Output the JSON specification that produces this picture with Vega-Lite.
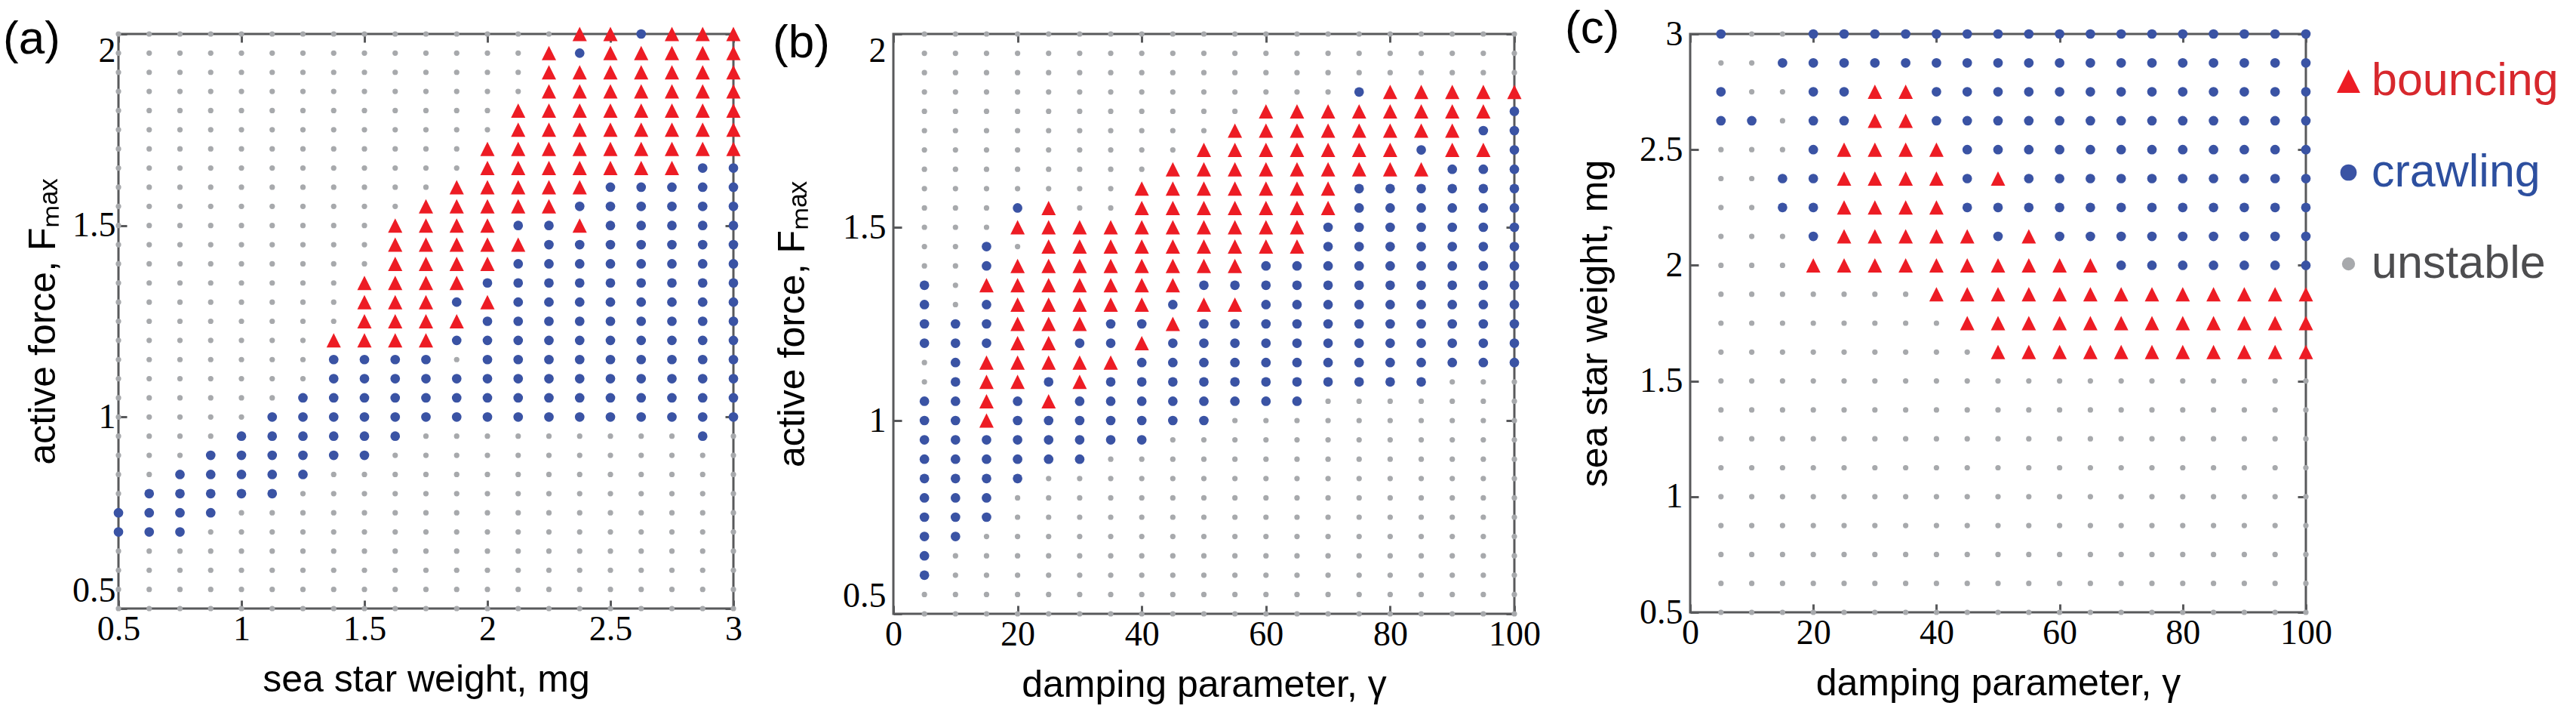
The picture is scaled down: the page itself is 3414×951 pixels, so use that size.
{
"$schema":"https://vega.github.io/schema/vega-lite/v6.json",
"background":"#ffffff",
"padding":{"left":2,"top":5,"right":0,"bottom":0},
"datasets":{
"a":[
{"x":0.5,"y":2,"s":"u"},{"x":0.625,"y":2,"s":"u"},{"x":0.75,"y":2,"s":"u"},{"x":0.875,"y":2,"s":"u"},{"x":1,"y":2,"s":"u"},{"x":1.125,"y":2,"s":"u"},{"x":1.25,"y":2,"s":"u"},{"x":1.375,"y":2,"s":"u"},{"x":1.5,"y":2,"s":"u"},{"x":1.625,"y":2,"s":"u"},{"x":1.75,"y":2,"s":"u"},{"x":1.875,"y":2,"s":"u"},{"x":2,"y":2,"s":"u"},{"x":2.125,"y":2,"s":"u"},{"x":2.25,"y":2,"s":"u"},{"x":2.375,"y":2,"s":"b"},{"x":2.5,"y":2,"s":"b"},{"x":2.625,"y":2,"s":"c"},{"x":2.75,"y":2,"s":"b"},{"x":2.875,"y":2,"s":"b"},{"x":3,"y":2,"s":"b"},
{"x":0.5,"y":1.95,"s":"u"},{"x":0.625,"y":1.95,"s":"u"},{"x":0.75,"y":1.95,"s":"u"},{"x":0.875,"y":1.95,"s":"u"},{"x":1,"y":1.95,"s":"u"},{"x":1.125,"y":1.95,"s":"u"},{"x":1.25,"y":1.95,"s":"u"},{"x":1.375,"y":1.95,"s":"u"},{"x":1.5,"y":1.95,"s":"u"},{"x":1.625,"y":1.95,"s":"u"},{"x":1.75,"y":1.95,"s":"u"},{"x":1.875,"y":1.95,"s":"u"},{"x":2,"y":1.95,"s":"u"},{"x":2.125,"y":1.95,"s":"u"},{"x":2.25,"y":1.95,"s":"b"},{"x":2.375,"y":1.95,"s":"c"},{"x":2.5,"y":1.95,"s":"b"},{"x":2.625,"y":1.95,"s":"b"},{"x":2.75,"y":1.95,"s":"b"},{"x":2.875,"y":1.95,"s":"b"},{"x":3,"y":1.95,"s":"b"},
{"x":0.5,"y":1.9,"s":"u"},{"x":0.625,"y":1.9,"s":"u"},{"x":0.75,"y":1.9,"s":"u"},{"x":0.875,"y":1.9,"s":"u"},{"x":1,"y":1.9,"s":"u"},{"x":1.125,"y":1.9,"s":"u"},{"x":1.25,"y":1.9,"s":"u"},{"x":1.375,"y":1.9,"s":"u"},{"x":1.5,"y":1.9,"s":"u"},{"x":1.625,"y":1.9,"s":"u"},{"x":1.75,"y":1.9,"s":"u"},{"x":1.875,"y":1.9,"s":"u"},{"x":2,"y":1.9,"s":"u"},{"x":2.125,"y":1.9,"s":"u"},{"x":2.25,"y":1.9,"s":"b"},{"x":2.375,"y":1.9,"s":"b"},{"x":2.5,"y":1.9,"s":"b"},{"x":2.625,"y":1.9,"s":"b"},{"x":2.75,"y":1.9,"s":"b"},{"x":2.875,"y":1.9,"s":"b"},{"x":3,"y":1.9,"s":"b"},
{"x":0.5,"y":1.85,"s":"u"},{"x":0.625,"y":1.85,"s":"u"},{"x":0.75,"y":1.85,"s":"u"},{"x":0.875,"y":1.85,"s":"u"},{"x":1,"y":1.85,"s":"u"},{"x":1.125,"y":1.85,"s":"u"},{"x":1.25,"y":1.85,"s":"u"},{"x":1.375,"y":1.85,"s":"u"},{"x":1.5,"y":1.85,"s":"u"},{"x":1.625,"y":1.85,"s":"u"},{"x":1.75,"y":1.85,"s":"u"},{"x":1.875,"y":1.85,"s":"u"},{"x":2,"y":1.85,"s":"u"},{"x":2.125,"y":1.85,"s":"u"},{"x":2.25,"y":1.85,"s":"b"},{"x":2.375,"y":1.85,"s":"b"},{"x":2.5,"y":1.85,"s":"b"},{"x":2.625,"y":1.85,"s":"b"},{"x":2.75,"y":1.85,"s":"b"},{"x":2.875,"y":1.85,"s":"b"},{"x":3,"y":1.85,"s":"b"},
{"x":0.5,"y":1.8,"s":"u"},{"x":0.625,"y":1.8,"s":"u"},{"x":0.75,"y":1.8,"s":"u"},{"x":0.875,"y":1.8,"s":"u"},{"x":1,"y":1.8,"s":"u"},{"x":1.125,"y":1.8,"s":"u"},{"x":1.25,"y":1.8,"s":"u"},{"x":1.375,"y":1.8,"s":"u"},{"x":1.5,"y":1.8,"s":"u"},{"x":1.625,"y":1.8,"s":"u"},{"x":1.75,"y":1.8,"s":"u"},{"x":1.875,"y":1.8,"s":"u"},{"x":2,"y":1.8,"s":"u"},{"x":2.125,"y":1.8,"s":"b"},{"x":2.25,"y":1.8,"s":"b"},{"x":2.375,"y":1.8,"s":"b"},{"x":2.5,"y":1.8,"s":"b"},{"x":2.625,"y":1.8,"s":"b"},{"x":2.75,"y":1.8,"s":"b"},{"x":2.875,"y":1.8,"s":"b"},{"x":3,"y":1.8,"s":"b"},
{"x":0.5,"y":1.75,"s":"u"},{"x":0.625,"y":1.75,"s":"u"},{"x":0.75,"y":1.75,"s":"u"},{"x":0.875,"y":1.75,"s":"u"},{"x":1,"y":1.75,"s":"u"},{"x":1.125,"y":1.75,"s":"u"},{"x":1.25,"y":1.75,"s":"u"},{"x":1.375,"y":1.75,"s":"u"},{"x":1.5,"y":1.75,"s":"u"},{"x":1.625,"y":1.75,"s":"u"},{"x":1.75,"y":1.75,"s":"u"},{"x":1.875,"y":1.75,"s":"u"},{"x":2,"y":1.75,"s":"u"},{"x":2.125,"y":1.75,"s":"b"},{"x":2.25,"y":1.75,"s":"b"},{"x":2.375,"y":1.75,"s":"b"},{"x":2.5,"y":1.75,"s":"b"},{"x":2.625,"y":1.75,"s":"b"},{"x":2.75,"y":1.75,"s":"b"},{"x":2.875,"y":1.75,"s":"b"},{"x":3,"y":1.75,"s":"b"},
{"x":0.5,"y":1.7,"s":"u"},{"x":0.625,"y":1.7,"s":"u"},{"x":0.75,"y":1.7,"s":"u"},{"x":0.875,"y":1.7,"s":"u"},{"x":1,"y":1.7,"s":"u"},{"x":1.125,"y":1.7,"s":"u"},{"x":1.25,"y":1.7,"s":"u"},{"x":1.375,"y":1.7,"s":"u"},{"x":1.5,"y":1.7,"s":"u"},{"x":1.625,"y":1.7,"s":"u"},{"x":1.75,"y":1.7,"s":"u"},{"x":1.875,"y":1.7,"s":"u"},{"x":2,"y":1.7,"s":"b"},{"x":2.125,"y":1.7,"s":"b"},{"x":2.25,"y":1.7,"s":"b"},{"x":2.375,"y":1.7,"s":"b"},{"x":2.5,"y":1.7,"s":"b"},{"x":2.625,"y":1.7,"s":"b"},{"x":2.75,"y":1.7,"s":"b"},{"x":2.875,"y":1.7,"s":"b"},{"x":3,"y":1.7,"s":"b"},
{"x":0.5,"y":1.65,"s":"u"},{"x":0.625,"y":1.65,"s":"u"},{"x":0.75,"y":1.65,"s":"u"},{"x":0.875,"y":1.65,"s":"u"},{"x":1,"y":1.65,"s":"u"},{"x":1.125,"y":1.65,"s":"u"},{"x":1.25,"y":1.65,"s":"u"},{"x":1.375,"y":1.65,"s":"u"},{"x":1.5,"y":1.65,"s":"u"},{"x":1.625,"y":1.65,"s":"u"},{"x":1.75,"y":1.65,"s":"u"},{"x":1.875,"y":1.65,"s":"u"},{"x":2,"y":1.65,"s":"b"},{"x":2.125,"y":1.65,"s":"b"},{"x":2.25,"y":1.65,"s":"b"},{"x":2.375,"y":1.65,"s":"b"},{"x":2.5,"y":1.65,"s":"b"},{"x":2.625,"y":1.65,"s":"b"},{"x":2.75,"y":1.65,"s":"b"},{"x":2.875,"y":1.65,"s":"c"},{"x":3,"y":1.65,"s":"c"},
{"x":0.5,"y":1.6,"s":"u"},{"x":0.625,"y":1.6,"s":"u"},{"x":0.75,"y":1.6,"s":"u"},{"x":0.875,"y":1.6,"s":"u"},{"x":1,"y":1.6,"s":"u"},{"x":1.125,"y":1.6,"s":"u"},{"x":1.25,"y":1.6,"s":"u"},{"x":1.375,"y":1.6,"s":"u"},{"x":1.5,"y":1.6,"s":"u"},{"x":1.625,"y":1.6,"s":"u"},{"x":1.75,"y":1.6,"s":"u"},{"x":1.875,"y":1.6,"s":"b"},{"x":2,"y":1.6,"s":"b"},{"x":2.125,"y":1.6,"s":"b"},{"x":2.25,"y":1.6,"s":"b"},{"x":2.375,"y":1.6,"s":"b"},{"x":2.5,"y":1.6,"s":"c"},{"x":2.625,"y":1.6,"s":"c"},{"x":2.75,"y":1.6,"s":"c"},{"x":2.875,"y":1.6,"s":"c"},{"x":3,"y":1.6,"s":"c"},
{"x":0.5,"y":1.55,"s":"u"},{"x":0.625,"y":1.55,"s":"u"},{"x":0.75,"y":1.55,"s":"u"},{"x":0.875,"y":1.55,"s":"u"},{"x":1,"y":1.55,"s":"u"},{"x":1.125,"y":1.55,"s":"u"},{"x":1.25,"y":1.55,"s":"u"},{"x":1.375,"y":1.55,"s":"u"},{"x":1.5,"y":1.55,"s":"u"},{"x":1.625,"y":1.55,"s":"u"},{"x":1.75,"y":1.55,"s":"b"},{"x":1.875,"y":1.55,"s":"b"},{"x":2,"y":1.55,"s":"b"},{"x":2.125,"y":1.55,"s":"b"},{"x":2.25,"y":1.55,"s":"b"},{"x":2.375,"y":1.55,"s":"c"},{"x":2.5,"y":1.55,"s":"c"},{"x":2.625,"y":1.55,"s":"c"},{"x":2.75,"y":1.55,"s":"c"},{"x":2.875,"y":1.55,"s":"c"},{"x":3,"y":1.55,"s":"c"},
{"x":0.5,"y":1.5,"s":"u"},{"x":0.625,"y":1.5,"s":"u"},{"x":0.75,"y":1.5,"s":"u"},{"x":0.875,"y":1.5,"s":"u"},{"x":1,"y":1.5,"s":"u"},{"x":1.125,"y":1.5,"s":"u"},{"x":1.25,"y":1.5,"s":"u"},{"x":1.375,"y":1.5,"s":"u"},{"x":1.5,"y":1.5,"s":"u"},{"x":1.625,"y":1.5,"s":"b"},{"x":1.75,"y":1.5,"s":"b"},{"x":1.875,"y":1.5,"s":"b"},{"x":2,"y":1.5,"s":"b"},{"x":2.125,"y":1.5,"s":"c"},{"x":2.25,"y":1.5,"s":"c"},{"x":2.375,"y":1.5,"s":"b"},{"x":2.5,"y":1.5,"s":"c"},{"x":2.625,"y":1.5,"s":"c"},{"x":2.75,"y":1.5,"s":"c"},{"x":2.875,"y":1.5,"s":"c"},{"x":3,"y":1.5,"s":"c"},
{"x":0.5,"y":1.45,"s":"u"},{"x":0.625,"y":1.45,"s":"u"},{"x":0.75,"y":1.45,"s":"u"},{"x":0.875,"y":1.45,"s":"u"},{"x":1,"y":1.45,"s":"u"},{"x":1.125,"y":1.45,"s":"u"},{"x":1.25,"y":1.45,"s":"u"},{"x":1.375,"y":1.45,"s":"u"},{"x":1.5,"y":1.45,"s":"u"},{"x":1.625,"y":1.45,"s":"b"},{"x":1.75,"y":1.45,"s":"b"},{"x":1.875,"y":1.45,"s":"b"},{"x":2,"y":1.45,"s":"b"},{"x":2.125,"y":1.45,"s":"b"},{"x":2.25,"y":1.45,"s":"c"},{"x":2.375,"y":1.45,"s":"c"},{"x":2.5,"y":1.45,"s":"c"},{"x":2.625,"y":1.45,"s":"c"},{"x":2.75,"y":1.45,"s":"c"},{"x":2.875,"y":1.45,"s":"c"},{"x":3,"y":1.45,"s":"c"},
{"x":0.5,"y":1.4,"s":"u"},{"x":0.625,"y":1.4,"s":"u"},{"x":0.75,"y":1.4,"s":"u"},{"x":0.875,"y":1.4,"s":"u"},{"x":1,"y":1.4,"s":"u"},{"x":1.125,"y":1.4,"s":"u"},{"x":1.25,"y":1.4,"s":"u"},{"x":1.375,"y":1.4,"s":"u"},{"x":1.5,"y":1.4,"s":"u"},{"x":1.625,"y":1.4,"s":"b"},{"x":1.75,"y":1.4,"s":"b"},{"x":1.875,"y":1.4,"s":"b"},{"x":2,"y":1.4,"s":"b"},{"x":2.125,"y":1.4,"s":"c"},{"x":2.25,"y":1.4,"s":"c"},{"x":2.375,"y":1.4,"s":"c"},{"x":2.5,"y":1.4,"s":"c"},{"x":2.625,"y":1.4,"s":"c"},{"x":2.75,"y":1.4,"s":"c"},{"x":2.875,"y":1.4,"s":"c"},{"x":3,"y":1.4,"s":"c"},
{"x":0.5,"y":1.35,"s":"u"},{"x":0.625,"y":1.35,"s":"u"},{"x":0.75,"y":1.35,"s":"u"},{"x":0.875,"y":1.35,"s":"u"},{"x":1,"y":1.35,"s":"u"},{"x":1.125,"y":1.35,"s":"u"},{"x":1.25,"y":1.35,"s":"u"},{"x":1.375,"y":1.35,"s":"u"},{"x":1.5,"y":1.35,"s":"b"},{"x":1.625,"y":1.35,"s":"b"},{"x":1.75,"y":1.35,"s":"b"},{"x":1.875,"y":1.35,"s":"b"},{"x":2,"y":1.35,"s":"c"},{"x":2.125,"y":1.35,"s":"c"},{"x":2.25,"y":1.35,"s":"c"},{"x":2.375,"y":1.35,"s":"c"},{"x":2.5,"y":1.35,"s":"c"},{"x":2.625,"y":1.35,"s":"c"},{"x":2.75,"y":1.35,"s":"c"},{"x":2.875,"y":1.35,"s":"c"},{"x":3,"y":1.35,"s":"c"},
{"x":0.5,"y":1.3,"s":"u"},{"x":0.625,"y":1.3,"s":"u"},{"x":0.75,"y":1.3,"s":"u"},{"x":0.875,"y":1.3,"s":"u"},{"x":1,"y":1.3,"s":"u"},{"x":1.125,"y":1.3,"s":"u"},{"x":1.25,"y":1.3,"s":"u"},{"x":1.375,"y":1.3,"s":"u"},{"x":1.5,"y":1.3,"s":"b"},{"x":1.625,"y":1.3,"s":"b"},{"x":1.75,"y":1.3,"s":"b"},{"x":1.875,"y":1.3,"s":"c"},{"x":2,"y":1.3,"s":"b"},{"x":2.125,"y":1.3,"s":"c"},{"x":2.25,"y":1.3,"s":"c"},{"x":2.375,"y":1.3,"s":"c"},{"x":2.5,"y":1.3,"s":"c"},{"x":2.625,"y":1.3,"s":"c"},{"x":2.75,"y":1.3,"s":"c"},{"x":2.875,"y":1.3,"s":"c"},{"x":3,"y":1.3,"s":"c"},
{"x":0.5,"y":1.25,"s":"u"},{"x":0.625,"y":1.25,"s":"u"},{"x":0.75,"y":1.25,"s":"u"},{"x":0.875,"y":1.25,"s":"u"},{"x":1,"y":1.25,"s":"u"},{"x":1.125,"y":1.25,"s":"u"},{"x":1.25,"y":1.25,"s":"u"},{"x":1.375,"y":1.25,"s":"u"},{"x":1.5,"y":1.25,"s":"b"},{"x":1.625,"y":1.25,"s":"b"},{"x":1.75,"y":1.25,"s":"b"},{"x":1.875,"y":1.25,"s":"b"},{"x":2,"y":1.25,"s":"c"},{"x":2.125,"y":1.25,"s":"c"},{"x":2.25,"y":1.25,"s":"c"},{"x":2.375,"y":1.25,"s":"c"},{"x":2.5,"y":1.25,"s":"c"},{"x":2.625,"y":1.25,"s":"c"},{"x":2.75,"y":1.25,"s":"c"},{"x":2.875,"y":1.25,"s":"c"},{"x":3,"y":1.25,"s":"c"},
{"x":0.5,"y":1.2,"s":"u"},{"x":0.625,"y":1.2,"s":"u"},{"x":0.75,"y":1.2,"s":"u"},{"x":0.875,"y":1.2,"s":"u"},{"x":1,"y":1.2,"s":"u"},{"x":1.125,"y":1.2,"s":"u"},{"x":1.25,"y":1.2,"s":"u"},{"x":1.375,"y":1.2,"s":"b"},{"x":1.5,"y":1.2,"s":"b"},{"x":1.625,"y":1.2,"s":"b"},{"x":1.75,"y":1.2,"s":"b"},{"x":1.875,"y":1.2,"s":"c"},{"x":2,"y":1.2,"s":"c"},{"x":2.125,"y":1.2,"s":"c"},{"x":2.25,"y":1.2,"s":"c"},{"x":2.375,"y":1.2,"s":"c"},{"x":2.5,"y":1.2,"s":"c"},{"x":2.625,"y":1.2,"s":"c"},{"x":2.75,"y":1.2,"s":"c"},{"x":2.875,"y":1.2,"s":"c"},{"x":3,"y":1.2,"s":"c"},
{"x":0.5,"y":1.15,"s":"u"},{"x":0.625,"y":1.15,"s":"u"},{"x":0.75,"y":1.15,"s":"u"},{"x":0.875,"y":1.15,"s":"u"},{"x":1,"y":1.15,"s":"u"},{"x":1.125,"y":1.15,"s":"u"},{"x":1.25,"y":1.15,"s":"u"},{"x":1.375,"y":1.15,"s":"c"},{"x":1.5,"y":1.15,"s":"c"},{"x":1.625,"y":1.15,"s":"c"},{"x":1.75,"y":1.15,"s":"c"},{"x":1.875,"y":1.15,"s":"u"},{"x":2,"y":1.15,"s":"c"},{"x":2.125,"y":1.15,"s":"c"},{"x":2.25,"y":1.15,"s":"c"},{"x":2.375,"y":1.15,"s":"c"},{"x":2.5,"y":1.15,"s":"c"},{"x":2.625,"y":1.15,"s":"c"},{"x":2.75,"y":1.15,"s":"c"},{"x":2.875,"y":1.15,"s":"c"},{"x":3,"y":1.15,"s":"c"},
{"x":0.5,"y":1.1,"s":"u"},{"x":0.625,"y":1.1,"s":"u"},{"x":0.75,"y":1.1,"s":"u"},{"x":0.875,"y":1.1,"s":"u"},{"x":1,"y":1.1,"s":"u"},{"x":1.125,"y":1.1,"s":"u"},{"x":1.25,"y":1.1,"s":"u"},{"x":1.375,"y":1.1,"s":"c"},{"x":1.5,"y":1.1,"s":"c"},{"x":1.625,"y":1.1,"s":"c"},{"x":1.75,"y":1.1,"s":"c"},{"x":1.875,"y":1.1,"s":"c"},{"x":2,"y":1.1,"s":"c"},{"x":2.125,"y":1.1,"s":"c"},{"x":2.25,"y":1.1,"s":"c"},{"x":2.375,"y":1.1,"s":"c"},{"x":2.5,"y":1.1,"s":"c"},{"x":2.625,"y":1.1,"s":"c"},{"x":2.75,"y":1.1,"s":"c"},{"x":2.875,"y":1.1,"s":"c"},{"x":3,"y":1.1,"s":"c"},
{"x":0.5,"y":1.05,"s":"u"},{"x":0.625,"y":1.05,"s":"u"},{"x":0.75,"y":1.05,"s":"u"},{"x":0.875,"y":1.05,"s":"u"},{"x":1,"y":1.05,"s":"u"},{"x":1.125,"y":1.05,"s":"u"},{"x":1.25,"y":1.05,"s":"c"},{"x":1.375,"y":1.05,"s":"c"},{"x":1.5,"y":1.05,"s":"c"},{"x":1.625,"y":1.05,"s":"c"},{"x":1.75,"y":1.05,"s":"c"},{"x":1.875,"y":1.05,"s":"c"},{"x":2,"y":1.05,"s":"c"},{"x":2.125,"y":1.05,"s":"c"},{"x":2.25,"y":1.05,"s":"c"},{"x":2.375,"y":1.05,"s":"c"},{"x":2.5,"y":1.05,"s":"c"},{"x":2.625,"y":1.05,"s":"c"},{"x":2.75,"y":1.05,"s":"c"},{"x":2.875,"y":1.05,"s":"c"},{"x":3,"y":1.05,"s":"c"},
{"x":0.5,"y":1,"s":"u"},{"x":0.625,"y":1,"s":"u"},{"x":0.75,"y":1,"s":"u"},{"x":0.875,"y":1,"s":"u"},{"x":1,"y":1,"s":"u"},{"x":1.125,"y":1,"s":"c"},{"x":1.25,"y":1,"s":"c"},{"x":1.375,"y":1,"s":"c"},{"x":1.5,"y":1,"s":"c"},{"x":1.625,"y":1,"s":"c"},{"x":1.75,"y":1,"s":"c"},{"x":1.875,"y":1,"s":"c"},{"x":2,"y":1,"s":"c"},{"x":2.125,"y":1,"s":"c"},{"x":2.25,"y":1,"s":"c"},{"x":2.375,"y":1,"s":"c"},{"x":2.5,"y":1,"s":"c"},{"x":2.625,"y":1,"s":"c"},{"x":2.75,"y":1,"s":"c"},{"x":2.875,"y":1,"s":"c"},{"x":3,"y":1,"s":"c"},
{"x":0.5,"y":0.95,"s":"u"},{"x":0.625,"y":0.95,"s":"u"},{"x":0.75,"y":0.95,"s":"u"},{"x":0.875,"y":0.95,"s":"u"},{"x":1,"y":0.95,"s":"c"},{"x":1.125,"y":0.95,"s":"c"},{"x":1.25,"y":0.95,"s":"c"},{"x":1.375,"y":0.95,"s":"c"},{"x":1.5,"y":0.95,"s":"c"},{"x":1.625,"y":0.95,"s":"c"},{"x":1.75,"y":0.95,"s":"u"},{"x":1.875,"y":0.95,"s":"u"},{"x":2,"y":0.95,"s":"u"},{"x":2.125,"y":0.95,"s":"u"},{"x":2.25,"y":0.95,"s":"u"},{"x":2.375,"y":0.95,"s":"u"},{"x":2.5,"y":0.95,"s":"u"},{"x":2.625,"y":0.95,"s":"u"},{"x":2.75,"y":0.95,"s":"u"},{"x":2.875,"y":0.95,"s":"c"},{"x":3,"y":0.95,"s":"u"},
{"x":0.5,"y":0.9,"s":"u"},{"x":0.625,"y":0.9,"s":"u"},{"x":0.75,"y":0.9,"s":"u"},{"x":0.875,"y":0.9,"s":"c"},{"x":1,"y":0.9,"s":"c"},{"x":1.125,"y":0.9,"s":"c"},{"x":1.25,"y":0.9,"s":"c"},{"x":1.375,"y":0.9,"s":"c"},{"x":1.5,"y":0.9,"s":"c"},{"x":1.625,"y":0.9,"s":"u"},{"x":1.75,"y":0.9,"s":"u"},{"x":1.875,"y":0.9,"s":"u"},{"x":2,"y":0.9,"s":"u"},{"x":2.125,"y":0.9,"s":"u"},{"x":2.25,"y":0.9,"s":"u"},{"x":2.375,"y":0.9,"s":"u"},{"x":2.5,"y":0.9,"s":"u"},{"x":2.625,"y":0.9,"s":"u"},{"x":2.75,"y":0.9,"s":"u"},{"x":2.875,"y":0.9,"s":"u"},{"x":3,"y":0.9,"s":"u"},
{"x":0.5,"y":0.85,"s":"u"},{"x":0.625,"y":0.85,"s":"u"},{"x":0.75,"y":0.85,"s":"c"},{"x":0.875,"y":0.85,"s":"c"},{"x":1,"y":0.85,"s":"c"},{"x":1.125,"y":0.85,"s":"c"},{"x":1.25,"y":0.85,"s":"c"},{"x":1.375,"y":0.85,"s":"u"},{"x":1.5,"y":0.85,"s":"u"},{"x":1.625,"y":0.85,"s":"u"},{"x":1.75,"y":0.85,"s":"u"},{"x":1.875,"y":0.85,"s":"u"},{"x":2,"y":0.85,"s":"u"},{"x":2.125,"y":0.85,"s":"u"},{"x":2.25,"y":0.85,"s":"u"},{"x":2.375,"y":0.85,"s":"u"},{"x":2.5,"y":0.85,"s":"u"},{"x":2.625,"y":0.85,"s":"u"},{"x":2.75,"y":0.85,"s":"u"},{"x":2.875,"y":0.85,"s":"u"},{"x":3,"y":0.85,"s":"u"},
{"x":0.5,"y":0.8,"s":"u"},{"x":0.625,"y":0.8,"s":"c"},{"x":0.75,"y":0.8,"s":"c"},{"x":0.875,"y":0.8,"s":"c"},{"x":1,"y":0.8,"s":"c"},{"x":1.125,"y":0.8,"s":"c"},{"x":1.25,"y":0.8,"s":"u"},{"x":1.375,"y":0.8,"s":"u"},{"x":1.5,"y":0.8,"s":"u"},{"x":1.625,"y":0.8,"s":"u"},{"x":1.75,"y":0.8,"s":"u"},{"x":1.875,"y":0.8,"s":"u"},{"x":2,"y":0.8,"s":"u"},{"x":2.125,"y":0.8,"s":"u"},{"x":2.25,"y":0.8,"s":"u"},{"x":2.375,"y":0.8,"s":"u"},{"x":2.5,"y":0.8,"s":"u"},{"x":2.625,"y":0.8,"s":"u"},{"x":2.75,"y":0.8,"s":"u"},{"x":2.875,"y":0.8,"s":"u"},{"x":3,"y":0.8,"s":"u"},
{"x":0.5,"y":0.75,"s":"c"},{"x":0.625,"y":0.75,"s":"c"},{"x":0.75,"y":0.75,"s":"c"},{"x":0.875,"y":0.75,"s":"c"},{"x":1,"y":0.75,"s":"u"},{"x":1.125,"y":0.75,"s":"u"},{"x":1.25,"y":0.75,"s":"u"},{"x":1.375,"y":0.75,"s":"u"},{"x":1.5,"y":0.75,"s":"u"},{"x":1.625,"y":0.75,"s":"u"},{"x":1.75,"y":0.75,"s":"u"},{"x":1.875,"y":0.75,"s":"u"},{"x":2,"y":0.75,"s":"u"},{"x":2.125,"y":0.75,"s":"u"},{"x":2.25,"y":0.75,"s":"u"},{"x":2.375,"y":0.75,"s":"u"},{"x":2.5,"y":0.75,"s":"u"},{"x":2.625,"y":0.75,"s":"u"},{"x":2.75,"y":0.75,"s":"u"},{"x":2.875,"y":0.75,"s":"u"},{"x":3,"y":0.75,"s":"u"},
{"x":0.5,"y":0.7,"s":"c"},{"x":0.625,"y":0.7,"s":"c"},{"x":0.75,"y":0.7,"s":"c"},{"x":0.875,"y":0.7,"s":"u"},{"x":1,"y":0.7,"s":"u"},{"x":1.125,"y":0.7,"s":"u"},{"x":1.25,"y":0.7,"s":"u"},{"x":1.375,"y":0.7,"s":"u"},{"x":1.5,"y":0.7,"s":"u"},{"x":1.625,"y":0.7,"s":"u"},{"x":1.75,"y":0.7,"s":"u"},{"x":1.875,"y":0.7,"s":"u"},{"x":2,"y":0.7,"s":"u"},{"x":2.125,"y":0.7,"s":"u"},{"x":2.25,"y":0.7,"s":"u"},{"x":2.375,"y":0.7,"s":"u"},{"x":2.5,"y":0.7,"s":"u"},{"x":2.625,"y":0.7,"s":"u"},{"x":2.75,"y":0.7,"s":"u"},{"x":2.875,"y":0.7,"s":"u"},{"x":3,"y":0.7,"s":"u"},
{"x":0.5,"y":0.65,"s":"u"},{"x":0.625,"y":0.65,"s":"u"},{"x":0.75,"y":0.65,"s":"u"},{"x":0.875,"y":0.65,"s":"u"},{"x":1,"y":0.65,"s":"u"},{"x":1.125,"y":0.65,"s":"u"},{"x":1.25,"y":0.65,"s":"u"},{"x":1.375,"y":0.65,"s":"u"},{"x":1.5,"y":0.65,"s":"u"},{"x":1.625,"y":0.65,"s":"u"},{"x":1.75,"y":0.65,"s":"u"},{"x":1.875,"y":0.65,"s":"u"},{"x":2,"y":0.65,"s":"u"},{"x":2.125,"y":0.65,"s":"u"},{"x":2.25,"y":0.65,"s":"u"},{"x":2.375,"y":0.65,"s":"u"},{"x":2.5,"y":0.65,"s":"u"},{"x":2.625,"y":0.65,"s":"u"},{"x":2.75,"y":0.65,"s":"u"},{"x":2.875,"y":0.65,"s":"u"},{"x":3,"y":0.65,"s":"u"},
{"x":0.5,"y":0.6,"s":"u"},{"x":0.625,"y":0.6,"s":"u"},{"x":0.75,"y":0.6,"s":"u"},{"x":0.875,"y":0.6,"s":"u"},{"x":1,"y":0.6,"s":"u"},{"x":1.125,"y":0.6,"s":"u"},{"x":1.25,"y":0.6,"s":"u"},{"x":1.375,"y":0.6,"s":"u"},{"x":1.5,"y":0.6,"s":"u"},{"x":1.625,"y":0.6,"s":"u"},{"x":1.75,"y":0.6,"s":"u"},{"x":1.875,"y":0.6,"s":"u"},{"x":2,"y":0.6,"s":"u"},{"x":2.125,"y":0.6,"s":"u"},{"x":2.25,"y":0.6,"s":"u"},{"x":2.375,"y":0.6,"s":"u"},{"x":2.5,"y":0.6,"s":"u"},{"x":2.625,"y":0.6,"s":"u"},{"x":2.75,"y":0.6,"s":"u"},{"x":2.875,"y":0.6,"s":"u"},{"x":3,"y":0.6,"s":"u"},
{"x":0.5,"y":0.55,"s":"u"},{"x":0.625,"y":0.55,"s":"u"},{"x":0.75,"y":0.55,"s":"u"},{"x":0.875,"y":0.55,"s":"u"},{"x":1,"y":0.55,"s":"u"},{"x":1.125,"y":0.55,"s":"u"},{"x":1.25,"y":0.55,"s":"u"},{"x":1.375,"y":0.55,"s":"u"},{"x":1.5,"y":0.55,"s":"u"},{"x":1.625,"y":0.55,"s":"u"},{"x":1.75,"y":0.55,"s":"u"},{"x":1.875,"y":0.55,"s":"u"},{"x":2,"y":0.55,"s":"u"},{"x":2.125,"y":0.55,"s":"u"},{"x":2.25,"y":0.55,"s":"u"},{"x":2.375,"y":0.55,"s":"u"},{"x":2.5,"y":0.55,"s":"u"},{"x":2.625,"y":0.55,"s":"u"},{"x":2.75,"y":0.55,"s":"u"},{"x":2.875,"y":0.55,"s":"u"},{"x":3,"y":0.55,"s":"u"},
{"x":0.5,"y":0.5,"s":"u"},{"x":0.625,"y":0.5,"s":"u"},{"x":0.75,"y":0.5,"s":"u"},{"x":0.875,"y":0.5,"s":"u"},{"x":1,"y":0.5,"s":"u"},{"x":1.125,"y":0.5,"s":"u"},{"x":1.25,"y":0.5,"s":"u"},{"x":1.375,"y":0.5,"s":"u"},{"x":1.5,"y":0.5,"s":"u"},{"x":1.625,"y":0.5,"s":"u"},{"x":1.75,"y":0.5,"s":"u"},{"x":1.875,"y":0.5,"s":"u"},{"x":2,"y":0.5,"s":"u"},{"x":2.125,"y":0.5,"s":"u"},{"x":2.25,"y":0.5,"s":"u"},{"x":2.375,"y":0.5,"s":"u"},{"x":2.5,"y":0.5,"s":"u"},{"x":2.625,"y":0.5,"s":"u"},{"x":2.75,"y":0.5,"s":"u"},{"x":2.875,"y":0.5,"s":"u"},{"x":3,"y":0.5,"s":"u"}
],
"b":[
{"x":5,"y":2,"s":"u"},{"x":10,"y":2,"s":"u"},{"x":15,"y":2,"s":"u"},{"x":20,"y":2,"s":"u"},{"x":25,"y":2,"s":"u"},{"x":30,"y":2,"s":"u"},{"x":35,"y":2,"s":"u"},{"x":40,"y":2,"s":"u"},{"x":45,"y":2,"s":"u"},{"x":50,"y":2,"s":"u"},{"x":55,"y":2,"s":"u"},{"x":60,"y":2,"s":"u"},{"x":65,"y":2,"s":"u"},{"x":70,"y":2,"s":"u"},{"x":75,"y":2,"s":"u"},{"x":80,"y":2,"s":"u"},{"x":85,"y":2,"s":"u"},{"x":90,"y":2,"s":"u"},{"x":95,"y":2,"s":"u"},{"x":100,"y":2,"s":"u"},
{"x":5,"y":1.95,"s":"u"},{"x":10,"y":1.95,"s":"u"},{"x":15,"y":1.95,"s":"u"},{"x":20,"y":1.95,"s":"u"},{"x":25,"y":1.95,"s":"u"},{"x":30,"y":1.95,"s":"u"},{"x":35,"y":1.95,"s":"u"},{"x":40,"y":1.95,"s":"u"},{"x":45,"y":1.95,"s":"u"},{"x":50,"y":1.95,"s":"u"},{"x":55,"y":1.95,"s":"u"},{"x":60,"y":1.95,"s":"u"},{"x":65,"y":1.95,"s":"u"},{"x":70,"y":1.95,"s":"u"},{"x":75,"y":1.95,"s":"u"},{"x":80,"y":1.95,"s":"u"},{"x":85,"y":1.95,"s":"u"},{"x":90,"y":1.95,"s":"u"},{"x":95,"y":1.95,"s":"u"},{"x":100,"y":1.95,"s":"u"},
{"x":5,"y":1.9,"s":"u"},{"x":10,"y":1.9,"s":"u"},{"x":15,"y":1.9,"s":"u"},{"x":20,"y":1.9,"s":"u"},{"x":25,"y":1.9,"s":"u"},{"x":30,"y":1.9,"s":"u"},{"x":35,"y":1.9,"s":"u"},{"x":40,"y":1.9,"s":"u"},{"x":45,"y":1.9,"s":"u"},{"x":50,"y":1.9,"s":"u"},{"x":55,"y":1.9,"s":"u"},{"x":60,"y":1.9,"s":"u"},{"x":65,"y":1.9,"s":"u"},{"x":70,"y":1.9,"s":"u"},{"x":75,"y":1.9,"s":"u"},{"x":80,"y":1.9,"s":"u"},{"x":85,"y":1.9,"s":"u"},{"x":90,"y":1.9,"s":"u"},{"x":95,"y":1.9,"s":"u"},{"x":100,"y":1.9,"s":"u"},
{"x":5,"y":1.85,"s":"u"},{"x":10,"y":1.85,"s":"u"},{"x":15,"y":1.85,"s":"u"},{"x":20,"y":1.85,"s":"u"},{"x":25,"y":1.85,"s":"u"},{"x":30,"y":1.85,"s":"u"},{"x":35,"y":1.85,"s":"u"},{"x":40,"y":1.85,"s":"u"},{"x":45,"y":1.85,"s":"u"},{"x":50,"y":1.85,"s":"u"},{"x":55,"y":1.85,"s":"u"},{"x":60,"y":1.85,"s":"u"},{"x":65,"y":1.85,"s":"u"},{"x":70,"y":1.85,"s":"u"},{"x":75,"y":1.85,"s":"c"},{"x":80,"y":1.85,"s":"b"},{"x":85,"y":1.85,"s":"b"},{"x":90,"y":1.85,"s":"b"},{"x":95,"y":1.85,"s":"b"},{"x":100,"y":1.85,"s":"b"},
{"x":5,"y":1.8,"s":"u"},{"x":10,"y":1.8,"s":"u"},{"x":15,"y":1.8,"s":"u"},{"x":20,"y":1.8,"s":"u"},{"x":25,"y":1.8,"s":"u"},{"x":30,"y":1.8,"s":"u"},{"x":35,"y":1.8,"s":"u"},{"x":40,"y":1.8,"s":"u"},{"x":45,"y":1.8,"s":"u"},{"x":50,"y":1.8,"s":"u"},{"x":55,"y":1.8,"s":"u"},{"x":60,"y":1.8,"s":"b"},{"x":65,"y":1.8,"s":"b"},{"x":70,"y":1.8,"s":"b"},{"x":75,"y":1.8,"s":"b"},{"x":80,"y":1.8,"s":"b"},{"x":85,"y":1.8,"s":"b"},{"x":90,"y":1.8,"s":"b"},{"x":95,"y":1.8,"s":"b"},{"x":100,"y":1.8,"s":"c"},
{"x":5,"y":1.75,"s":"u"},{"x":10,"y":1.75,"s":"u"},{"x":15,"y":1.75,"s":"u"},{"x":20,"y":1.75,"s":"u"},{"x":25,"y":1.75,"s":"u"},{"x":30,"y":1.75,"s":"u"},{"x":35,"y":1.75,"s":"u"},{"x":40,"y":1.75,"s":"u"},{"x":45,"y":1.75,"s":"u"},{"x":50,"y":1.75,"s":"u"},{"x":55,"y":1.75,"s":"b"},{"x":60,"y":1.75,"s":"b"},{"x":65,"y":1.75,"s":"b"},{"x":70,"y":1.75,"s":"b"},{"x":75,"y":1.75,"s":"b"},{"x":80,"y":1.75,"s":"b"},{"x":85,"y":1.75,"s":"b"},{"x":90,"y":1.75,"s":"b"},{"x":95,"y":1.75,"s":"c"},{"x":100,"y":1.75,"s":"c"},
{"x":5,"y":1.7,"s":"u"},{"x":10,"y":1.7,"s":"u"},{"x":15,"y":1.7,"s":"u"},{"x":20,"y":1.7,"s":"u"},{"x":25,"y":1.7,"s":"u"},{"x":30,"y":1.7,"s":"u"},{"x":35,"y":1.7,"s":"u"},{"x":40,"y":1.7,"s":"u"},{"x":45,"y":1.7,"s":"u"},{"x":50,"y":1.7,"s":"b"},{"x":55,"y":1.7,"s":"b"},{"x":60,"y":1.7,"s":"b"},{"x":65,"y":1.7,"s":"b"},{"x":70,"y":1.7,"s":"b"},{"x":75,"y":1.7,"s":"b"},{"x":80,"y":1.7,"s":"b"},{"x":85,"y":1.7,"s":"c"},{"x":90,"y":1.7,"s":"b"},{"x":95,"y":1.7,"s":"b"},{"x":100,"y":1.7,"s":"c"},
{"x":5,"y":1.65,"s":"u"},{"x":10,"y":1.65,"s":"u"},{"x":15,"y":1.65,"s":"u"},{"x":20,"y":1.65,"s":"u"},{"x":25,"y":1.65,"s":"u"},{"x":30,"y":1.65,"s":"u"},{"x":35,"y":1.65,"s":"u"},{"x":40,"y":1.65,"s":"u"},{"x":45,"y":1.65,"s":"b"},{"x":50,"y":1.65,"s":"b"},{"x":55,"y":1.65,"s":"b"},{"x":60,"y":1.65,"s":"b"},{"x":65,"y":1.65,"s":"b"},{"x":70,"y":1.65,"s":"b"},{"x":75,"y":1.65,"s":"b"},{"x":80,"y":1.65,"s":"b"},{"x":85,"y":1.65,"s":"b"},{"x":90,"y":1.65,"s":"c"},{"x":95,"y":1.65,"s":"c"},{"x":100,"y":1.65,"s":"c"},
{"x":5,"y":1.6,"s":"u"},{"x":10,"y":1.6,"s":"u"},{"x":15,"y":1.6,"s":"u"},{"x":20,"y":1.6,"s":"u"},{"x":25,"y":1.6,"s":"u"},{"x":30,"y":1.6,"s":"u"},{"x":35,"y":1.6,"s":"u"},{"x":40,"y":1.6,"s":"b"},{"x":45,"y":1.6,"s":"b"},{"x":50,"y":1.6,"s":"b"},{"x":55,"y":1.6,"s":"b"},{"x":60,"y":1.6,"s":"b"},{"x":65,"y":1.6,"s":"b"},{"x":70,"y":1.6,"s":"b"},{"x":75,"y":1.6,"s":"c"},{"x":80,"y":1.6,"s":"c"},{"x":85,"y":1.6,"s":"c"},{"x":90,"y":1.6,"s":"c"},{"x":95,"y":1.6,"s":"c"},{"x":100,"y":1.6,"s":"c"},
{"x":5,"y":1.55,"s":"u"},{"x":10,"y":1.55,"s":"u"},{"x":15,"y":1.55,"s":"u"},{"x":20,"y":1.55,"s":"c"},{"x":25,"y":1.55,"s":"b"},{"x":30,"y":1.55,"s":"u"},{"x":35,"y":1.55,"s":"u"},{"x":40,"y":1.55,"s":"b"},{"x":45,"y":1.55,"s":"b"},{"x":50,"y":1.55,"s":"b"},{"x":55,"y":1.55,"s":"b"},{"x":60,"y":1.55,"s":"b"},{"x":65,"y":1.55,"s":"b"},{"x":70,"y":1.55,"s":"b"},{"x":75,"y":1.55,"s":"c"},{"x":80,"y":1.55,"s":"c"},{"x":85,"y":1.55,"s":"c"},{"x":90,"y":1.55,"s":"c"},{"x":95,"y":1.55,"s":"c"},{"x":100,"y":1.55,"s":"c"},
{"x":5,"y":1.5,"s":"u"},{"x":10,"y":1.5,"s":"u"},{"x":15,"y":1.5,"s":"u"},{"x":20,"y":1.5,"s":"b"},{"x":25,"y":1.5,"s":"b"},{"x":30,"y":1.5,"s":"b"},{"x":35,"y":1.5,"s":"b"},{"x":40,"y":1.5,"s":"b"},{"x":45,"y":1.5,"s":"b"},{"x":50,"y":1.5,"s":"b"},{"x":55,"y":1.5,"s":"b"},{"x":60,"y":1.5,"s":"b"},{"x":65,"y":1.5,"s":"b"},{"x":70,"y":1.5,"s":"c"},{"x":75,"y":1.5,"s":"c"},{"x":80,"y":1.5,"s":"c"},{"x":85,"y":1.5,"s":"c"},{"x":90,"y":1.5,"s":"c"},{"x":95,"y":1.5,"s":"c"},{"x":100,"y":1.5,"s":"c"},
{"x":5,"y":1.45,"s":"u"},{"x":10,"y":1.45,"s":"u"},{"x":15,"y":1.45,"s":"c"},{"x":20,"y":1.45,"s":"u"},{"x":25,"y":1.45,"s":"b"},{"x":30,"y":1.45,"s":"b"},{"x":35,"y":1.45,"s":"b"},{"x":40,"y":1.45,"s":"b"},{"x":45,"y":1.45,"s":"b"},{"x":50,"y":1.45,"s":"b"},{"x":55,"y":1.45,"s":"b"},{"x":60,"y":1.45,"s":"b"},{"x":65,"y":1.45,"s":"b"},{"x":70,"y":1.45,"s":"c"},{"x":75,"y":1.45,"s":"c"},{"x":80,"y":1.45,"s":"c"},{"x":85,"y":1.45,"s":"c"},{"x":90,"y":1.45,"s":"c"},{"x":95,"y":1.45,"s":"c"},{"x":100,"y":1.45,"s":"c"},
{"x":5,"y":1.4,"s":"u"},{"x":10,"y":1.4,"s":"u"},{"x":15,"y":1.4,"s":"c"},{"x":20,"y":1.4,"s":"b"},{"x":25,"y":1.4,"s":"b"},{"x":30,"y":1.4,"s":"b"},{"x":35,"y":1.4,"s":"b"},{"x":40,"y":1.4,"s":"b"},{"x":45,"y":1.4,"s":"b"},{"x":50,"y":1.4,"s":"b"},{"x":55,"y":1.4,"s":"b"},{"x":60,"y":1.4,"s":"c"},{"x":65,"y":1.4,"s":"c"},{"x":70,"y":1.4,"s":"c"},{"x":75,"y":1.4,"s":"c"},{"x":80,"y":1.4,"s":"c"},{"x":85,"y":1.4,"s":"c"},{"x":90,"y":1.4,"s":"c"},{"x":95,"y":1.4,"s":"c"},{"x":100,"y":1.4,"s":"c"},
{"x":5,"y":1.35,"s":"c"},{"x":10,"y":1.35,"s":"u"},{"x":15,"y":1.35,"s":"b"},{"x":20,"y":1.35,"s":"b"},{"x":25,"y":1.35,"s":"b"},{"x":30,"y":1.35,"s":"b"},{"x":35,"y":1.35,"s":"b"},{"x":40,"y":1.35,"s":"b"},{"x":45,"y":1.35,"s":"b"},{"x":50,"y":1.35,"s":"c"},{"x":55,"y":1.35,"s":"c"},{"x":60,"y":1.35,"s":"c"},{"x":65,"y":1.35,"s":"c"},{"x":70,"y":1.35,"s":"c"},{"x":75,"y":1.35,"s":"c"},{"x":80,"y":1.35,"s":"c"},{"x":85,"y":1.35,"s":"c"},{"x":90,"y":1.35,"s":"c"},{"x":95,"y":1.35,"s":"c"},{"x":100,"y":1.35,"s":"c"},
{"x":5,"y":1.3,"s":"c"},{"x":10,"y":1.3,"s":"u"},{"x":15,"y":1.3,"s":"c"},{"x":20,"y":1.3,"s":"b"},{"x":25,"y":1.3,"s":"b"},{"x":30,"y":1.3,"s":"b"},{"x":35,"y":1.3,"s":"b"},{"x":40,"y":1.3,"s":"b"},{"x":45,"y":1.3,"s":"c"},{"x":50,"y":1.3,"s":"b"},{"x":55,"y":1.3,"s":"b"},{"x":60,"y":1.3,"s":"c"},{"x":65,"y":1.3,"s":"c"},{"x":70,"y":1.3,"s":"c"},{"x":75,"y":1.3,"s":"c"},{"x":80,"y":1.3,"s":"c"},{"x":85,"y":1.3,"s":"c"},{"x":90,"y":1.3,"s":"c"},{"x":95,"y":1.3,"s":"c"},{"x":100,"y":1.3,"s":"c"},
{"x":5,"y":1.25,"s":"c"},{"x":10,"y":1.25,"s":"c"},{"x":15,"y":1.25,"s":"c"},{"x":20,"y":1.25,"s":"b"},{"x":25,"y":1.25,"s":"b"},{"x":30,"y":1.25,"s":"b"},{"x":35,"y":1.25,"s":"c"},{"x":40,"y":1.25,"s":"c"},{"x":45,"y":1.25,"s":"b"},{"x":50,"y":1.25,"s":"c"},{"x":55,"y":1.25,"s":"c"},{"x":60,"y":1.25,"s":"c"},{"x":65,"y":1.25,"s":"c"},{"x":70,"y":1.25,"s":"c"},{"x":75,"y":1.25,"s":"c"},{"x":80,"y":1.25,"s":"c"},{"x":85,"y":1.25,"s":"c"},{"x":90,"y":1.25,"s":"c"},{"x":95,"y":1.25,"s":"c"},{"x":100,"y":1.25,"s":"c"},
{"x":5,"y":1.2,"s":"c"},{"x":10,"y":1.2,"s":"c"},{"x":15,"y":1.2,"s":"c"},{"x":20,"y":1.2,"s":"b"},{"x":25,"y":1.2,"s":"b"},{"x":30,"y":1.2,"s":"c"},{"x":35,"y":1.2,"s":"c"},{"x":40,"y":1.2,"s":"b"},{"x":45,"y":1.2,"s":"c"},{"x":50,"y":1.2,"s":"c"},{"x":55,"y":1.2,"s":"c"},{"x":60,"y":1.2,"s":"c"},{"x":65,"y":1.2,"s":"c"},{"x":70,"y":1.2,"s":"c"},{"x":75,"y":1.2,"s":"c"},{"x":80,"y":1.2,"s":"c"},{"x":85,"y":1.2,"s":"c"},{"x":90,"y":1.2,"s":"c"},{"x":95,"y":1.2,"s":"c"},{"x":100,"y":1.2,"s":"c"},
{"x":5,"y":1.15,"s":"u"},{"x":10,"y":1.15,"s":"c"},{"x":15,"y":1.15,"s":"b"},{"x":20,"y":1.15,"s":"b"},{"x":25,"y":1.15,"s":"b"},{"x":30,"y":1.15,"s":"b"},{"x":35,"y":1.15,"s":"b"},{"x":40,"y":1.15,"s":"c"},{"x":45,"y":1.15,"s":"c"},{"x":50,"y":1.15,"s":"c"},{"x":55,"y":1.15,"s":"c"},{"x":60,"y":1.15,"s":"c"},{"x":65,"y":1.15,"s":"c"},{"x":70,"y":1.15,"s":"c"},{"x":75,"y":1.15,"s":"c"},{"x":80,"y":1.15,"s":"c"},{"x":85,"y":1.15,"s":"c"},{"x":90,"y":1.15,"s":"c"},{"x":95,"y":1.15,"s":"c"},{"x":100,"y":1.15,"s":"c"},
{"x":5,"y":1.1,"s":"u"},{"x":10,"y":1.1,"s":"c"},{"x":15,"y":1.1,"s":"b"},{"x":20,"y":1.1,"s":"b"},{"x":25,"y":1.1,"s":"c"},{"x":30,"y":1.1,"s":"b"},{"x":35,"y":1.1,"s":"c"},{"x":40,"y":1.1,"s":"c"},{"x":45,"y":1.1,"s":"c"},{"x":50,"y":1.1,"s":"c"},{"x":55,"y":1.1,"s":"c"},{"x":60,"y":1.1,"s":"c"},{"x":65,"y":1.1,"s":"c"},{"x":70,"y":1.1,"s":"c"},{"x":75,"y":1.1,"s":"c"},{"x":80,"y":1.1,"s":"c"},{"x":85,"y":1.1,"s":"c"},{"x":90,"y":1.1,"s":"u"},{"x":95,"y":1.1,"s":"u"},{"x":100,"y":1.1,"s":"u"},
{"x":5,"y":1.05,"s":"c"},{"x":10,"y":1.05,"s":"c"},{"x":15,"y":1.05,"s":"b"},{"x":20,"y":1.05,"s":"c"},{"x":25,"y":1.05,"s":"b"},{"x":30,"y":1.05,"s":"c"},{"x":35,"y":1.05,"s":"c"},{"x":40,"y":1.05,"s":"c"},{"x":45,"y":1.05,"s":"c"},{"x":50,"y":1.05,"s":"c"},{"x":55,"y":1.05,"s":"c"},{"x":60,"y":1.05,"s":"c"},{"x":65,"y":1.05,"s":"c"},{"x":70,"y":1.05,"s":"u"},{"x":75,"y":1.05,"s":"u"},{"x":80,"y":1.05,"s":"u"},{"x":85,"y":1.05,"s":"u"},{"x":90,"y":1.05,"s":"u"},{"x":95,"y":1.05,"s":"u"},{"x":100,"y":1.05,"s":"u"},
{"x":5,"y":1,"s":"c"},{"x":10,"y":1,"s":"c"},{"x":15,"y":1,"s":"b"},{"x":20,"y":1,"s":"c"},{"x":25,"y":1,"s":"c"},{"x":30,"y":1,"s":"c"},{"x":35,"y":1,"s":"c"},{"x":40,"y":1,"s":"c"},{"x":45,"y":1,"s":"c"},{"x":50,"y":1,"s":"c"},{"x":55,"y":1,"s":"u"},{"x":60,"y":1,"s":"u"},{"x":65,"y":1,"s":"u"},{"x":70,"y":1,"s":"u"},{"x":75,"y":1,"s":"u"},{"x":80,"y":1,"s":"u"},{"x":85,"y":1,"s":"u"},{"x":90,"y":1,"s":"u"},{"x":95,"y":1,"s":"u"},{"x":100,"y":1,"s":"u"},
{"x":5,"y":0.95,"s":"c"},{"x":10,"y":0.95,"s":"c"},{"x":15,"y":0.95,"s":"c"},{"x":20,"y":0.95,"s":"c"},{"x":25,"y":0.95,"s":"c"},{"x":30,"y":0.95,"s":"c"},{"x":35,"y":0.95,"s":"c"},{"x":40,"y":0.95,"s":"c"},{"x":45,"y":0.95,"s":"u"},{"x":50,"y":0.95,"s":"u"},{"x":55,"y":0.95,"s":"u"},{"x":60,"y":0.95,"s":"u"},{"x":65,"y":0.95,"s":"u"},{"x":70,"y":0.95,"s":"u"},{"x":75,"y":0.95,"s":"u"},{"x":80,"y":0.95,"s":"u"},{"x":85,"y":0.95,"s":"u"},{"x":90,"y":0.95,"s":"u"},{"x":95,"y":0.95,"s":"u"},{"x":100,"y":0.95,"s":"u"},
{"x":5,"y":0.9,"s":"c"},{"x":10,"y":0.9,"s":"c"},{"x":15,"y":0.9,"s":"c"},{"x":20,"y":0.9,"s":"c"},{"x":25,"y":0.9,"s":"c"},{"x":30,"y":0.9,"s":"c"},{"x":35,"y":0.9,"s":"u"},{"x":40,"y":0.9,"s":"u"},{"x":45,"y":0.9,"s":"u"},{"x":50,"y":0.9,"s":"u"},{"x":55,"y":0.9,"s":"u"},{"x":60,"y":0.9,"s":"u"},{"x":65,"y":0.9,"s":"u"},{"x":70,"y":0.9,"s":"u"},{"x":75,"y":0.9,"s":"u"},{"x":80,"y":0.9,"s":"u"},{"x":85,"y":0.9,"s":"u"},{"x":90,"y":0.9,"s":"u"},{"x":95,"y":0.9,"s":"u"},{"x":100,"y":0.9,"s":"u"},
{"x":5,"y":0.85,"s":"c"},{"x":10,"y":0.85,"s":"c"},{"x":15,"y":0.85,"s":"c"},{"x":20,"y":0.85,"s":"c"},{"x":25,"y":0.85,"s":"u"},{"x":30,"y":0.85,"s":"u"},{"x":35,"y":0.85,"s":"u"},{"x":40,"y":0.85,"s":"u"},{"x":45,"y":0.85,"s":"u"},{"x":50,"y":0.85,"s":"u"},{"x":55,"y":0.85,"s":"u"},{"x":60,"y":0.85,"s":"u"},{"x":65,"y":0.85,"s":"u"},{"x":70,"y":0.85,"s":"u"},{"x":75,"y":0.85,"s":"u"},{"x":80,"y":0.85,"s":"u"},{"x":85,"y":0.85,"s":"u"},{"x":90,"y":0.85,"s":"u"},{"x":95,"y":0.85,"s":"u"},{"x":100,"y":0.85,"s":"u"},
{"x":5,"y":0.8,"s":"c"},{"x":10,"y":0.8,"s":"c"},{"x":15,"y":0.8,"s":"c"},{"x":20,"y":0.8,"s":"u"},{"x":25,"y":0.8,"s":"u"},{"x":30,"y":0.8,"s":"u"},{"x":35,"y":0.8,"s":"u"},{"x":40,"y":0.8,"s":"u"},{"x":45,"y":0.8,"s":"u"},{"x":50,"y":0.8,"s":"u"},{"x":55,"y":0.8,"s":"u"},{"x":60,"y":0.8,"s":"u"},{"x":65,"y":0.8,"s":"u"},{"x":70,"y":0.8,"s":"u"},{"x":75,"y":0.8,"s":"u"},{"x":80,"y":0.8,"s":"u"},{"x":85,"y":0.8,"s":"u"},{"x":90,"y":0.8,"s":"u"},{"x":95,"y":0.8,"s":"u"},{"x":100,"y":0.8,"s":"u"},
{"x":5,"y":0.75,"s":"c"},{"x":10,"y":0.75,"s":"c"},{"x":15,"y":0.75,"s":"c"},{"x":20,"y":0.75,"s":"u"},{"x":25,"y":0.75,"s":"u"},{"x":30,"y":0.75,"s":"u"},{"x":35,"y":0.75,"s":"u"},{"x":40,"y":0.75,"s":"u"},{"x":45,"y":0.75,"s":"u"},{"x":50,"y":0.75,"s":"u"},{"x":55,"y":0.75,"s":"u"},{"x":60,"y":0.75,"s":"u"},{"x":65,"y":0.75,"s":"u"},{"x":70,"y":0.75,"s":"u"},{"x":75,"y":0.75,"s":"u"},{"x":80,"y":0.75,"s":"u"},{"x":85,"y":0.75,"s":"u"},{"x":90,"y":0.75,"s":"u"},{"x":95,"y":0.75,"s":"u"},{"x":100,"y":0.75,"s":"u"},
{"x":5,"y":0.7,"s":"c"},{"x":10,"y":0.7,"s":"c"},{"x":15,"y":0.7,"s":"u"},{"x":20,"y":0.7,"s":"u"},{"x":25,"y":0.7,"s":"u"},{"x":30,"y":0.7,"s":"u"},{"x":35,"y":0.7,"s":"u"},{"x":40,"y":0.7,"s":"u"},{"x":45,"y":0.7,"s":"u"},{"x":50,"y":0.7,"s":"u"},{"x":55,"y":0.7,"s":"u"},{"x":60,"y":0.7,"s":"u"},{"x":65,"y":0.7,"s":"u"},{"x":70,"y":0.7,"s":"u"},{"x":75,"y":0.7,"s":"u"},{"x":80,"y":0.7,"s":"u"},{"x":85,"y":0.7,"s":"u"},{"x":90,"y":0.7,"s":"u"},{"x":95,"y":0.7,"s":"u"},{"x":100,"y":0.7,"s":"u"},
{"x":5,"y":0.65,"s":"c"},{"x":10,"y":0.65,"s":"u"},{"x":15,"y":0.65,"s":"u"},{"x":20,"y":0.65,"s":"u"},{"x":25,"y":0.65,"s":"u"},{"x":30,"y":0.65,"s":"u"},{"x":35,"y":0.65,"s":"u"},{"x":40,"y":0.65,"s":"u"},{"x":45,"y":0.65,"s":"u"},{"x":50,"y":0.65,"s":"u"},{"x":55,"y":0.65,"s":"u"},{"x":60,"y":0.65,"s":"u"},{"x":65,"y":0.65,"s":"u"},{"x":70,"y":0.65,"s":"u"},{"x":75,"y":0.65,"s":"u"},{"x":80,"y":0.65,"s":"u"},{"x":85,"y":0.65,"s":"u"},{"x":90,"y":0.65,"s":"u"},{"x":95,"y":0.65,"s":"u"},{"x":100,"y":0.65,"s":"u"},
{"x":5,"y":0.6,"s":"c"},{"x":10,"y":0.6,"s":"u"},{"x":15,"y":0.6,"s":"u"},{"x":20,"y":0.6,"s":"u"},{"x":25,"y":0.6,"s":"u"},{"x":30,"y":0.6,"s":"u"},{"x":35,"y":0.6,"s":"u"},{"x":40,"y":0.6,"s":"u"},{"x":45,"y":0.6,"s":"u"},{"x":50,"y":0.6,"s":"u"},{"x":55,"y":0.6,"s":"u"},{"x":60,"y":0.6,"s":"u"},{"x":65,"y":0.6,"s":"u"},{"x":70,"y":0.6,"s":"u"},{"x":75,"y":0.6,"s":"u"},{"x":80,"y":0.6,"s":"u"},{"x":85,"y":0.6,"s":"u"},{"x":90,"y":0.6,"s":"u"},{"x":95,"y":0.6,"s":"u"},{"x":100,"y":0.6,"s":"u"},
{"x":5,"y":0.55,"s":"u"},{"x":10,"y":0.55,"s":"u"},{"x":15,"y":0.55,"s":"u"},{"x":20,"y":0.55,"s":"u"},{"x":25,"y":0.55,"s":"u"},{"x":30,"y":0.55,"s":"u"},{"x":35,"y":0.55,"s":"u"},{"x":40,"y":0.55,"s":"u"},{"x":45,"y":0.55,"s":"u"},{"x":50,"y":0.55,"s":"u"},{"x":55,"y":0.55,"s":"u"},{"x":60,"y":0.55,"s":"u"},{"x":65,"y":0.55,"s":"u"},{"x":70,"y":0.55,"s":"u"},{"x":75,"y":0.55,"s":"u"},{"x":80,"y":0.55,"s":"u"},{"x":85,"y":0.55,"s":"u"},{"x":90,"y":0.55,"s":"u"},{"x":95,"y":0.55,"s":"u"},{"x":100,"y":0.55,"s":"u"},
{"x":5,"y":0.5,"s":"u"},{"x":10,"y":0.5,"s":"u"},{"x":15,"y":0.5,"s":"u"},{"x":20,"y":0.5,"s":"u"},{"x":25,"y":0.5,"s":"u"},{"x":30,"y":0.5,"s":"u"},{"x":35,"y":0.5,"s":"u"},{"x":40,"y":0.5,"s":"u"},{"x":45,"y":0.5,"s":"u"},{"x":50,"y":0.5,"s":"u"},{"x":55,"y":0.5,"s":"u"},{"x":60,"y":0.5,"s":"u"},{"x":65,"y":0.5,"s":"u"},{"x":70,"y":0.5,"s":"u"},{"x":75,"y":0.5,"s":"u"},{"x":80,"y":0.5,"s":"u"},{"x":85,"y":0.5,"s":"u"},{"x":90,"y":0.5,"s":"u"},{"x":95,"y":0.5,"s":"u"},{"x":100,"y":0.5,"s":"u"}
],
"c":[
{"x":5,"y":3,"s":"c"},{"x":10,"y":3,"s":"u"},{"x":15,"y":3,"s":"u"},{"x":20,"y":3,"s":"c"},{"x":25,"y":3,"s":"c"},{"x":30,"y":3,"s":"c"},{"x":35,"y":3,"s":"c"},{"x":40,"y":3,"s":"c"},{"x":45,"y":3,"s":"c"},{"x":50,"y":3,"s":"c"},{"x":55,"y":3,"s":"c"},{"x":60,"y":3,"s":"c"},{"x":65,"y":3,"s":"c"},{"x":70,"y":3,"s":"c"},{"x":75,"y":3,"s":"c"},{"x":80,"y":3,"s":"c"},{"x":85,"y":3,"s":"c"},{"x":90,"y":3,"s":"c"},{"x":95,"y":3,"s":"c"},{"x":100,"y":3,"s":"c"},
{"x":5,"y":2.875,"s":"u"},{"x":10,"y":2.875,"s":"u"},{"x":15,"y":2.875,"s":"c"},{"x":20,"y":2.875,"s":"c"},{"x":25,"y":2.875,"s":"c"},{"x":30,"y":2.875,"s":"c"},{"x":35,"y":2.875,"s":"c"},{"x":40,"y":2.875,"s":"c"},{"x":45,"y":2.875,"s":"c"},{"x":50,"y":2.875,"s":"c"},{"x":55,"y":2.875,"s":"c"},{"x":60,"y":2.875,"s":"c"},{"x":65,"y":2.875,"s":"c"},{"x":70,"y":2.875,"s":"c"},{"x":75,"y":2.875,"s":"c"},{"x":80,"y":2.875,"s":"c"},{"x":85,"y":2.875,"s":"c"},{"x":90,"y":2.875,"s":"c"},{"x":95,"y":2.875,"s":"c"},{"x":100,"y":2.875,"s":"c"},
{"x":5,"y":2.75,"s":"c"},{"x":10,"y":2.75,"s":"u"},{"x":15,"y":2.75,"s":"u"},{"x":20,"y":2.75,"s":"c"},{"x":25,"y":2.75,"s":"c"},{"x":30,"y":2.75,"s":"b"},{"x":35,"y":2.75,"s":"b"},{"x":40,"y":2.75,"s":"c"},{"x":45,"y":2.75,"s":"c"},{"x":50,"y":2.75,"s":"c"},{"x":55,"y":2.75,"s":"c"},{"x":60,"y":2.75,"s":"c"},{"x":65,"y":2.75,"s":"c"},{"x":70,"y":2.75,"s":"c"},{"x":75,"y":2.75,"s":"c"},{"x":80,"y":2.75,"s":"c"},{"x":85,"y":2.75,"s":"c"},{"x":90,"y":2.75,"s":"c"},{"x":95,"y":2.75,"s":"c"},{"x":100,"y":2.75,"s":"c"},
{"x":5,"y":2.625,"s":"c"},{"x":10,"y":2.625,"s":"c"},{"x":15,"y":2.625,"s":"u"},{"x":20,"y":2.625,"s":"c"},{"x":25,"y":2.625,"s":"c"},{"x":30,"y":2.625,"s":"b"},{"x":35,"y":2.625,"s":"b"},{"x":40,"y":2.625,"s":"c"},{"x":45,"y":2.625,"s":"c"},{"x":50,"y":2.625,"s":"c"},{"x":55,"y":2.625,"s":"c"},{"x":60,"y":2.625,"s":"c"},{"x":65,"y":2.625,"s":"c"},{"x":70,"y":2.625,"s":"c"},{"x":75,"y":2.625,"s":"c"},{"x":80,"y":2.625,"s":"c"},{"x":85,"y":2.625,"s":"c"},{"x":90,"y":2.625,"s":"c"},{"x":95,"y":2.625,"s":"c"},{"x":100,"y":2.625,"s":"c"},
{"x":5,"y":2.5,"s":"u"},{"x":10,"y":2.5,"s":"u"},{"x":15,"y":2.5,"s":"u"},{"x":20,"y":2.5,"s":"c"},{"x":25,"y":2.5,"s":"b"},{"x":30,"y":2.5,"s":"b"},{"x":35,"y":2.5,"s":"b"},{"x":40,"y":2.5,"s":"b"},{"x":45,"y":2.5,"s":"c"},{"x":50,"y":2.5,"s":"c"},{"x":55,"y":2.5,"s":"c"},{"x":60,"y":2.5,"s":"c"},{"x":65,"y":2.5,"s":"c"},{"x":70,"y":2.5,"s":"c"},{"x":75,"y":2.5,"s":"c"},{"x":80,"y":2.5,"s":"c"},{"x":85,"y":2.5,"s":"c"},{"x":90,"y":2.5,"s":"c"},{"x":95,"y":2.5,"s":"c"},{"x":100,"y":2.5,"s":"c"},
{"x":5,"y":2.375,"s":"u"},{"x":10,"y":2.375,"s":"u"},{"x":15,"y":2.375,"s":"c"},{"x":20,"y":2.375,"s":"c"},{"x":25,"y":2.375,"s":"b"},{"x":30,"y":2.375,"s":"b"},{"x":35,"y":2.375,"s":"b"},{"x":40,"y":2.375,"s":"b"},{"x":45,"y":2.375,"s":"c"},{"x":50,"y":2.375,"s":"b"},{"x":55,"y":2.375,"s":"c"},{"x":60,"y":2.375,"s":"c"},{"x":65,"y":2.375,"s":"c"},{"x":70,"y":2.375,"s":"c"},{"x":75,"y":2.375,"s":"c"},{"x":80,"y":2.375,"s":"c"},{"x":85,"y":2.375,"s":"c"},{"x":90,"y":2.375,"s":"c"},{"x":95,"y":2.375,"s":"c"},{"x":100,"y":2.375,"s":"c"},
{"x":5,"y":2.25,"s":"u"},{"x":10,"y":2.25,"s":"u"},{"x":15,"y":2.25,"s":"c"},{"x":20,"y":2.25,"s":"c"},{"x":25,"y":2.25,"s":"b"},{"x":30,"y":2.25,"s":"b"},{"x":35,"y":2.25,"s":"b"},{"x":40,"y":2.25,"s":"b"},{"x":45,"y":2.25,"s":"c"},{"x":50,"y":2.25,"s":"c"},{"x":55,"y":2.25,"s":"c"},{"x":60,"y":2.25,"s":"c"},{"x":65,"y":2.25,"s":"c"},{"x":70,"y":2.25,"s":"c"},{"x":75,"y":2.25,"s":"c"},{"x":80,"y":2.25,"s":"c"},{"x":85,"y":2.25,"s":"c"},{"x":90,"y":2.25,"s":"c"},{"x":95,"y":2.25,"s":"c"},{"x":100,"y":2.25,"s":"c"},
{"x":5,"y":2.125,"s":"u"},{"x":10,"y":2.125,"s":"u"},{"x":15,"y":2.125,"s":"u"},{"x":20,"y":2.125,"s":"c"},{"x":25,"y":2.125,"s":"b"},{"x":30,"y":2.125,"s":"b"},{"x":35,"y":2.125,"s":"b"},{"x":40,"y":2.125,"s":"b"},{"x":45,"y":2.125,"s":"b"},{"x":50,"y":2.125,"s":"c"},{"x":55,"y":2.125,"s":"b"},{"x":60,"y":2.125,"s":"c"},{"x":65,"y":2.125,"s":"c"},{"x":70,"y":2.125,"s":"c"},{"x":75,"y":2.125,"s":"c"},{"x":80,"y":2.125,"s":"c"},{"x":85,"y":2.125,"s":"c"},{"x":90,"y":2.125,"s":"c"},{"x":95,"y":2.125,"s":"c"},{"x":100,"y":2.125,"s":"c"},
{"x":5,"y":2,"s":"u"},{"x":10,"y":2,"s":"u"},{"x":15,"y":2,"s":"u"},{"x":20,"y":2,"s":"b"},{"x":25,"y":2,"s":"b"},{"x":30,"y":2,"s":"b"},{"x":35,"y":2,"s":"b"},{"x":40,"y":2,"s":"b"},{"x":45,"y":2,"s":"b"},{"x":50,"y":2,"s":"b"},{"x":55,"y":2,"s":"b"},{"x":60,"y":2,"s":"b"},{"x":65,"y":2,"s":"b"},{"x":70,"y":2,"s":"c"},{"x":75,"y":2,"s":"c"},{"x":80,"y":2,"s":"c"},{"x":85,"y":2,"s":"c"},{"x":90,"y":2,"s":"c"},{"x":95,"y":2,"s":"c"},{"x":100,"y":2,"s":"c"},
{"x":5,"y":1.875,"s":"u"},{"x":10,"y":1.875,"s":"u"},{"x":15,"y":1.875,"s":"u"},{"x":20,"y":1.875,"s":"u"},{"x":25,"y":1.875,"s":"u"},{"x":30,"y":1.875,"s":"u"},{"x":35,"y":1.875,"s":"u"},{"x":40,"y":1.875,"s":"b"},{"x":45,"y":1.875,"s":"b"},{"x":50,"y":1.875,"s":"b"},{"x":55,"y":1.875,"s":"b"},{"x":60,"y":1.875,"s":"b"},{"x":65,"y":1.875,"s":"b"},{"x":70,"y":1.875,"s":"b"},{"x":75,"y":1.875,"s":"b"},{"x":80,"y":1.875,"s":"b"},{"x":85,"y":1.875,"s":"b"},{"x":90,"y":1.875,"s":"b"},{"x":95,"y":1.875,"s":"b"},{"x":100,"y":1.875,"s":"b"},
{"x":5,"y":1.75,"s":"u"},{"x":10,"y":1.75,"s":"u"},{"x":15,"y":1.75,"s":"u"},{"x":20,"y":1.75,"s":"u"},{"x":25,"y":1.75,"s":"u"},{"x":30,"y":1.75,"s":"u"},{"x":35,"y":1.75,"s":"u"},{"x":40,"y":1.75,"s":"u"},{"x":45,"y":1.75,"s":"b"},{"x":50,"y":1.75,"s":"b"},{"x":55,"y":1.75,"s":"b"},{"x":60,"y":1.75,"s":"b"},{"x":65,"y":1.75,"s":"b"},{"x":70,"y":1.75,"s":"b"},{"x":75,"y":1.75,"s":"b"},{"x":80,"y":1.75,"s":"b"},{"x":85,"y":1.75,"s":"b"},{"x":90,"y":1.75,"s":"b"},{"x":95,"y":1.75,"s":"b"},{"x":100,"y":1.75,"s":"b"},
{"x":5,"y":1.625,"s":"u"},{"x":10,"y":1.625,"s":"u"},{"x":15,"y":1.625,"s":"u"},{"x":20,"y":1.625,"s":"u"},{"x":25,"y":1.625,"s":"u"},{"x":30,"y":1.625,"s":"u"},{"x":35,"y":1.625,"s":"u"},{"x":40,"y":1.625,"s":"u"},{"x":45,"y":1.625,"s":"u"},{"x":50,"y":1.625,"s":"b"},{"x":55,"y":1.625,"s":"b"},{"x":60,"y":1.625,"s":"b"},{"x":65,"y":1.625,"s":"b"},{"x":70,"y":1.625,"s":"b"},{"x":75,"y":1.625,"s":"b"},{"x":80,"y":1.625,"s":"b"},{"x":85,"y":1.625,"s":"b"},{"x":90,"y":1.625,"s":"b"},{"x":95,"y":1.625,"s":"b"},{"x":100,"y":1.625,"s":"b"},
{"x":5,"y":1.5,"s":"u"},{"x":10,"y":1.5,"s":"u"},{"x":15,"y":1.5,"s":"u"},{"x":20,"y":1.5,"s":"u"},{"x":25,"y":1.5,"s":"u"},{"x":30,"y":1.5,"s":"u"},{"x":35,"y":1.5,"s":"u"},{"x":40,"y":1.5,"s":"u"},{"x":45,"y":1.5,"s":"u"},{"x":50,"y":1.5,"s":"u"},{"x":55,"y":1.5,"s":"u"},{"x":60,"y":1.5,"s":"u"},{"x":65,"y":1.5,"s":"u"},{"x":70,"y":1.5,"s":"u"},{"x":75,"y":1.5,"s":"u"},{"x":80,"y":1.5,"s":"u"},{"x":85,"y":1.5,"s":"u"},{"x":90,"y":1.5,"s":"u"},{"x":95,"y":1.5,"s":"u"},{"x":100,"y":1.5,"s":"u"},
{"x":5,"y":1.375,"s":"u"},{"x":10,"y":1.375,"s":"u"},{"x":15,"y":1.375,"s":"u"},{"x":20,"y":1.375,"s":"u"},{"x":25,"y":1.375,"s":"u"},{"x":30,"y":1.375,"s":"u"},{"x":35,"y":1.375,"s":"u"},{"x":40,"y":1.375,"s":"u"},{"x":45,"y":1.375,"s":"u"},{"x":50,"y":1.375,"s":"u"},{"x":55,"y":1.375,"s":"u"},{"x":60,"y":1.375,"s":"u"},{"x":65,"y":1.375,"s":"u"},{"x":70,"y":1.375,"s":"u"},{"x":75,"y":1.375,"s":"u"},{"x":80,"y":1.375,"s":"u"},{"x":85,"y":1.375,"s":"u"},{"x":90,"y":1.375,"s":"u"},{"x":95,"y":1.375,"s":"u"},{"x":100,"y":1.375,"s":"u"},
{"x":5,"y":1.25,"s":"u"},{"x":10,"y":1.25,"s":"u"},{"x":15,"y":1.25,"s":"u"},{"x":20,"y":1.25,"s":"u"},{"x":25,"y":1.25,"s":"u"},{"x":30,"y":1.25,"s":"u"},{"x":35,"y":1.25,"s":"u"},{"x":40,"y":1.25,"s":"u"},{"x":45,"y":1.25,"s":"u"},{"x":50,"y":1.25,"s":"u"},{"x":55,"y":1.25,"s":"u"},{"x":60,"y":1.25,"s":"u"},{"x":65,"y":1.25,"s":"u"},{"x":70,"y":1.25,"s":"u"},{"x":75,"y":1.25,"s":"u"},{"x":80,"y":1.25,"s":"u"},{"x":85,"y":1.25,"s":"u"},{"x":90,"y":1.25,"s":"u"},{"x":95,"y":1.25,"s":"u"},{"x":100,"y":1.25,"s":"u"},
{"x":5,"y":1.125,"s":"u"},{"x":10,"y":1.125,"s":"u"},{"x":15,"y":1.125,"s":"u"},{"x":20,"y":1.125,"s":"u"},{"x":25,"y":1.125,"s":"u"},{"x":30,"y":1.125,"s":"u"},{"x":35,"y":1.125,"s":"u"},{"x":40,"y":1.125,"s":"u"},{"x":45,"y":1.125,"s":"u"},{"x":50,"y":1.125,"s":"u"},{"x":55,"y":1.125,"s":"u"},{"x":60,"y":1.125,"s":"u"},{"x":65,"y":1.125,"s":"u"},{"x":70,"y":1.125,"s":"u"},{"x":75,"y":1.125,"s":"u"},{"x":80,"y":1.125,"s":"u"},{"x":85,"y":1.125,"s":"u"},{"x":90,"y":1.125,"s":"u"},{"x":95,"y":1.125,"s":"u"},{"x":100,"y":1.125,"s":"u"},
{"x":5,"y":1,"s":"u"},{"x":10,"y":1,"s":"u"},{"x":15,"y":1,"s":"u"},{"x":20,"y":1,"s":"u"},{"x":25,"y":1,"s":"u"},{"x":30,"y":1,"s":"u"},{"x":35,"y":1,"s":"u"},{"x":40,"y":1,"s":"u"},{"x":45,"y":1,"s":"u"},{"x":50,"y":1,"s":"u"},{"x":55,"y":1,"s":"u"},{"x":60,"y":1,"s":"u"},{"x":65,"y":1,"s":"u"},{"x":70,"y":1,"s":"u"},{"x":75,"y":1,"s":"u"},{"x":80,"y":1,"s":"u"},{"x":85,"y":1,"s":"u"},{"x":90,"y":1,"s":"u"},{"x":95,"y":1,"s":"u"},{"x":100,"y":1,"s":"u"},
{"x":5,"y":0.875,"s":"u"},{"x":10,"y":0.875,"s":"u"},{"x":15,"y":0.875,"s":"u"},{"x":20,"y":0.875,"s":"u"},{"x":25,"y":0.875,"s":"u"},{"x":30,"y":0.875,"s":"u"},{"x":35,"y":0.875,"s":"u"},{"x":40,"y":0.875,"s":"u"},{"x":45,"y":0.875,"s":"u"},{"x":50,"y":0.875,"s":"u"},{"x":55,"y":0.875,"s":"u"},{"x":60,"y":0.875,"s":"u"},{"x":65,"y":0.875,"s":"u"},{"x":70,"y":0.875,"s":"u"},{"x":75,"y":0.875,"s":"u"},{"x":80,"y":0.875,"s":"u"},{"x":85,"y":0.875,"s":"u"},{"x":90,"y":0.875,"s":"u"},{"x":95,"y":0.875,"s":"u"},{"x":100,"y":0.875,"s":"u"},
{"x":5,"y":0.75,"s":"u"},{"x":10,"y":0.75,"s":"u"},{"x":15,"y":0.75,"s":"u"},{"x":20,"y":0.75,"s":"u"},{"x":25,"y":0.75,"s":"u"},{"x":30,"y":0.75,"s":"u"},{"x":35,"y":0.75,"s":"u"},{"x":40,"y":0.75,"s":"u"},{"x":45,"y":0.75,"s":"u"},{"x":50,"y":0.75,"s":"u"},{"x":55,"y":0.75,"s":"u"},{"x":60,"y":0.75,"s":"u"},{"x":65,"y":0.75,"s":"u"},{"x":70,"y":0.75,"s":"u"},{"x":75,"y":0.75,"s":"u"},{"x":80,"y":0.75,"s":"u"},{"x":85,"y":0.75,"s":"u"},{"x":90,"y":0.75,"s":"u"},{"x":95,"y":0.75,"s":"u"},{"x":100,"y":0.75,"s":"u"},
{"x":5,"y":0.625,"s":"u"},{"x":10,"y":0.625,"s":"u"},{"x":15,"y":0.625,"s":"u"},{"x":20,"y":0.625,"s":"u"},{"x":25,"y":0.625,"s":"u"},{"x":30,"y":0.625,"s":"u"},{"x":35,"y":0.625,"s":"u"},{"x":40,"y":0.625,"s":"u"},{"x":45,"y":0.625,"s":"u"},{"x":50,"y":0.625,"s":"u"},{"x":55,"y":0.625,"s":"u"},{"x":60,"y":0.625,"s":"u"},{"x":65,"y":0.625,"s":"u"},{"x":70,"y":0.625,"s":"u"},{"x":75,"y":0.625,"s":"u"},{"x":80,"y":0.625,"s":"u"},{"x":85,"y":0.625,"s":"u"},{"x":90,"y":0.625,"s":"u"},{"x":95,"y":0.625,"s":"u"},{"x":100,"y":0.625,"s":"u"},
{"x":5,"y":0.5,"s":"u"},{"x":10,"y":0.5,"s":"u"},{"x":15,"y":0.5,"s":"u"},{"x":20,"y":0.5,"s":"u"},{"x":25,"y":0.5,"s":"u"},{"x":30,"y":0.5,"s":"u"},{"x":35,"y":0.5,"s":"u"},{"x":40,"y":0.5,"s":"u"},{"x":45,"y":0.5,"s":"u"},{"x":50,"y":0.5,"s":"u"},{"x":55,"y":0.5,"s":"u"},{"x":60,"y":0.5,"s":"u"},{"x":65,"y":0.5,"s":"u"},{"x":70,"y":0.5,"s":"u"},{"x":75,"y":0.5,"s":"u"},{"x":80,"y":0.5,"s":"u"},{"x":85,"y":0.5,"s":"u"},{"x":90,"y":0.5,"s":"u"},{"x":95,"y":0.5,"s":"u"},{"x":100,"y":0.5,"s":"u"}
]
},
"spacing":212,
"bounds":"flush",
"resolve":{"scale":{"color":"independent","shape":"independent"}},
"hconcat":[
{
"width":815,"height":761,
"title":{"text":"(a)","dx":-153,"dy":0,"offset":-48},
"data":{"name":"a"},
"layer":[
{"transform":[{"filter":"datum.s==='u'"}],
"mark":{"type":"point","filled":true,"opacity":1,"strokeWidth":0},
"encoding":{
"x":{"field":"x","type":"quantitative","scale":{"domain":[0.5,3],"nice":false,"zero":false},"axis":{"orient":"bottom","values":[0.5,1,1.5,2,2.5,3],"format":"~g","title":"sea star weight, mg"}},
"y":{"field":"y","type":"quantitative","scale":{"domain":[0.5,2],"nice":false,"zero":false},"axis":{"orient":"left","values":[0.5,1,1.5,2],"format":"~g","labelFlush":true,"labelPadding":15,"titlePadding":13,"title":"active force, Fₘₐₓ"}},
"color":{"field":"s","type":"nominal","scale":{"domain":["b","c","u"],"range":["#ED1C24","#3A53A4","#A7A9AC"]},"legend":null},
"shape":{"field":"s","type":"nominal","scale":{"domain":["b","c","u"],"range":["M0,-1L1,1L-1,1Z","circle","circle"]},"legend":null},
"size":{"condition":[{"test":"datum.s==='b'","value":361},{"test":"datum.s==='c'","value":161}],"value":52}}},
{"transform":[{"filter":"datum.s!=='u'"}],
"mark":{"type":"point","filled":true,"opacity":1,"strokeWidth":0},
"encoding":{
"x":{"field":"x","type":"quantitative","axis":{"orient":"top","values":[0.5,1,1.5,2,2.5,3],"labels":false,"title":null}},
"y":{"field":"y","type":"quantitative","axis":{"orient":"right","values":[0.5,1,1.5,2],"labels":false,"title":null}},
"color":{"field":"s","type":"nominal","scale":{"domain":["b","c","u"],"range":["#ED1C24","#3A53A4","#A7A9AC"]},"legend":null},
"shape":{"field":"s","type":"nominal","scale":{"domain":["b","c","u"],"range":["M0,-1L1,1L-1,1Z","circle","circle"]},"legend":null},
"size":{"condition":[{"test":"datum.s==='b'","value":361},{"test":"datum.s==='c'","value":161}],"value":52}}}
],
"resolve":{"axis":{"x":"independent","y":"independent"}}
},
{
"spacing":233,
"bounds":"flush",
"resolve":{"scale":{"color":"independent","shape":"independent"}},
"hconcat":[
{
"width":823,"height":768,
"title":{"text":"(b)","dx":-160,"dy":0,"offset":-48},
"data":{"name":"b"},
"layer":[
{"transform":[{"filter":"datum.s==='u'"}],
"mark":{"type":"point","filled":true,"opacity":1,"strokeWidth":0},
"encoding":{
"x":{"field":"x","type":"quantitative","scale":{"domain":[0,100],"nice":false,"zero":false},"axis":{"orient":"bottom","values":[0,20,40,60,80,100],"format":"d","title":"damping parameter, γ"}},
"y":{"field":"y","type":"quantitative","scale":{"domain":[0.5,2],"nice":false,"zero":false},"axis":{"orient":"left","values":[0.5,1,1.5,2],"format":"~g","labelFlush":true,"labelPadding":21,"titlePadding":41,"title":"active force, Fₘₐₓ"}},
"color":{"field":"s","type":"nominal","scale":{"domain":["b","c","u"],"range":["#ED1C24","#3A53A4","#A7A9AC"]},"legend":null},
"shape":{"field":"s","type":"nominal","scale":{"domain":["b","c","u"],"range":["M0,-1L1,1L-1,1Z","circle","circle"]},"legend":null},
"size":{"condition":[{"test":"datum.s==='b'","value":361},{"test":"datum.s==='c'","value":161}],"value":52}}},
{"transform":[{"filter":"datum.s!=='u'"}],
"mark":{"type":"point","filled":true,"opacity":1,"strokeWidth":0},
"encoding":{
"x":{"field":"x","type":"quantitative","axis":{"orient":"top","values":[0,20,40,60,80,100],"labels":false,"title":null}},
"y":{"field":"y","type":"quantitative","axis":{"orient":"right","values":[0.5,1,1.5,2],"labels":false,"title":null}},
"color":{"field":"s","type":"nominal","scale":{"domain":["b","c","u"],"range":["#ED1C24","#3A53A4","#A7A9AC"]},"legend":null},
"shape":{"field":"s","type":"nominal","scale":{"domain":["b","c","u"],"range":["M0,-1L1,1L-1,1Z","circle","circle"]},"legend":null},
"size":{"condition":[{"test":"datum.s==='b'","value":361},{"test":"datum.s==='c'","value":161}],"value":52}}}
],
"resolve":{"axis":{"x":"independent","y":"independent"}}
},
{
"width":816,"height":766,
"title":{"text":"(c)","dx":-166,"dy":0,"offset":-48},
"data":{"name":"c"},
"layer":[
{"transform":[{"filter":"datum.s==='u'"}],
"mark":{"type":"point","filled":true,"opacity":1,"strokeWidth":0},
"encoding":{
"x":{"field":"x","type":"quantitative","scale":{"domain":[0,100],"nice":false,"zero":false},"axis":{"orient":"bottom","values":[0,20,40,60,80,100],"format":"d","title":"damping parameter, γ"}},
"y":{"field":"y","type":"quantitative","scale":{"domain":[0.5,3],"nice":false,"zero":false},"axis":{"orient":"left","values":[0.5,1,1.5,2,2.5,3],"format":"~g","labelPadding":21,"titlePadding":33,"title":"sea star weight, mg"}},
"color":{"field":"s","type":"nominal","scale":{"domain":["b","c","u"],"range":["#ED1C24","#3A53A4","#A7A9AC"]},"legend":{"orient":"none","legendX":842,"legendY":32,"title":null,"padding":0,"labelExpr":"datum.value==='b'?'bouncing':datum.value==='c'?'crawling':'unstable'","labelFont":"Liberation Sans","labelFontSize":61,"labelLimit":0,"labelOffset":0,"rowPadding":59,"symbolSize":961,"symbolStrokeWidth":0,"symbolOpacity":1,"encode":{"labels":{"update":{"fill":{"signal":"datum.value==='b'?'#D7282D':datum.value==='c'?'#2D4F9F':'#4D4D4F'"}}},"symbols":{"update":{"size":{"signal":"datum.value==='b'?961:datum.value==='c'?470:300"}}}}}},
"shape":{"field":"s","type":"nominal","scale":{"domain":["b","c","u"],"range":["M0,-1L1,1L-1,1Z","circle","circle"]},"legend":{"orient":"none","legendX":842,"legendY":32,"title":null,"padding":0,"labelExpr":"datum.value==='b'?'bouncing':datum.value==='c'?'crawling':'unstable'","labelFont":"Liberation Sans","labelFontSize":61,"labelLimit":0,"labelOffset":0,"rowPadding":59,"symbolSize":961,"symbolStrokeWidth":0,"symbolOpacity":1,"encode":{"labels":{"update":{"fill":{"signal":"datum.value==='b'?'#D7282D':datum.value==='c'?'#2D4F9F':'#4D4D4F'"}}},"symbols":{"update":{"size":{"signal":"datum.value==='b'?961:datum.value==='c'?470:300"}}}}}},
"size":{"condition":[{"test":"datum.s==='b'","value":361},{"test":"datum.s==='c'","value":161}],"value":52}}},
{"transform":[{"filter":"datum.s!=='u'"}],
"mark":{"type":"point","filled":true,"opacity":1,"strokeWidth":0},
"encoding":{
"x":{"field":"x","type":"quantitative","axis":{"orient":"top","values":[0,20,40,60,80,100],"labels":false,"title":null}},
"y":{"field":"y","type":"quantitative","axis":{"orient":"right","values":[0.5,1,1.5,2,2.5,3],"labels":false,"title":null}},
"color":{"field":"s","type":"nominal","scale":{"domain":["b","c","u"],"range":["#ED1C24","#3A53A4","#A7A9AC"]}},
"shape":{"field":"s","type":"nominal","scale":{"domain":["b","c","u"],"range":["M0,-1L1,1L-1,1Z","circle","circle"]}},
"size":{"condition":[{"test":"datum.s==='b'","value":361},{"test":"datum.s==='c'","value":161}],"value":52}}}
],
"resolve":{"axis":{"x":"independent","y":"independent"}}
}
]
}
],
"config":{
"view":{"stroke":"#58595B","strokeWidth":3},
"axis":{"domain":false,"grid":false,"ticks":true,"tickColor":"#58595B","tickWidth":3,"tickSize":-11,"labelFont":"Liberation Serif","labelFontSize":46,"labelColor":"#000000","labelOverlap":false,"titleFont":"Liberation Sans","titleFontSize":50,"titleFontWeight":"normal","titleColor":"#000000"},
"axisX":{"labelFlush":false,"labelPadding":16,"titlePadding":19},
"title":{"font":"Liberation Sans","fontSize":62,"fontWeight":"normal","color":"#000000","anchor":"start","frame":"group","baseline":"alphabetic","offset":0}
}
}
